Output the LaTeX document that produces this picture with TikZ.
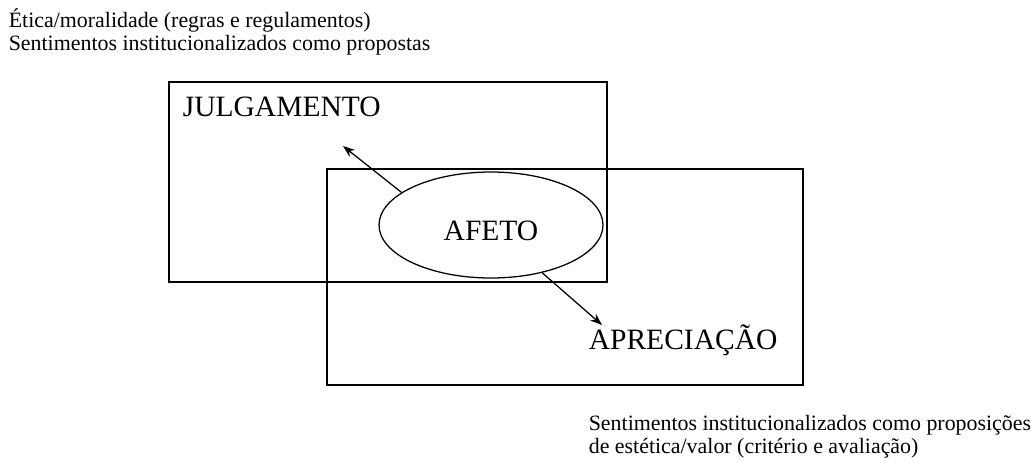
\documentclass[tikz,border=0pt]{standalone}
\usepackage{fontspec}
\setmainfont{Liberation Serif}
\usetikzlibrary{shapes.geometric,arrows.meta}

\begin{document}
\begin{tikzpicture}[>={Stealth[length=7.5pt,width=5.5pt]},x=0.63pt,y=-0.63pt,line width=1pt]
	\def\u{0.63pt}
	\tikzset{
		small/.style={font=\fontsize{13.8}{14.5}\selectfont,inner sep=0pt,align=left},
		big/.style={font=\fontsize{18.6}{22}\selectfont,inner sep=0pt}
	}
	\useasboundingbox (0,0) rectangle (1033,461);
	\draw (169,82) rectangle (607,282);
	\draw (327,169) rectangle (803,385);
	\node[draw,ellipse,line width=0.8pt,minimum width=224*\u,minimum height=106*\u,inner sep=0pt] (afeto) at (491,225) {};
	\node[big] (afetotxt) at (491,231) {AFETO};
	\node[big,anchor=north west] (julg) at (182,96) {JULGAMENTO};
	\node[big,anchor=west] (apre) at (588,340) {APRECIAÇÃO};
	\node[small,anchor=north west] (topo) at (8,8) {Ética/moralidade (regras e regulamentos)\\Sentimentos institucionalizados como propostas};
	\node[small,anchor=north west] (base) at (588,414) {Sentimentos institucionalizados como proposições\\de estética/valor (critério e avaliação)};
	\coordinate (pj) at (343,146);
	\coordinate (pa) at (602,325);
	\draw[->,line width=0.8pt] (afeto.160) -- (pj);
	\draw[->,line width=0.8pt] (afeto.317) -- (pa);
\end{tikzpicture}
\end{document}
